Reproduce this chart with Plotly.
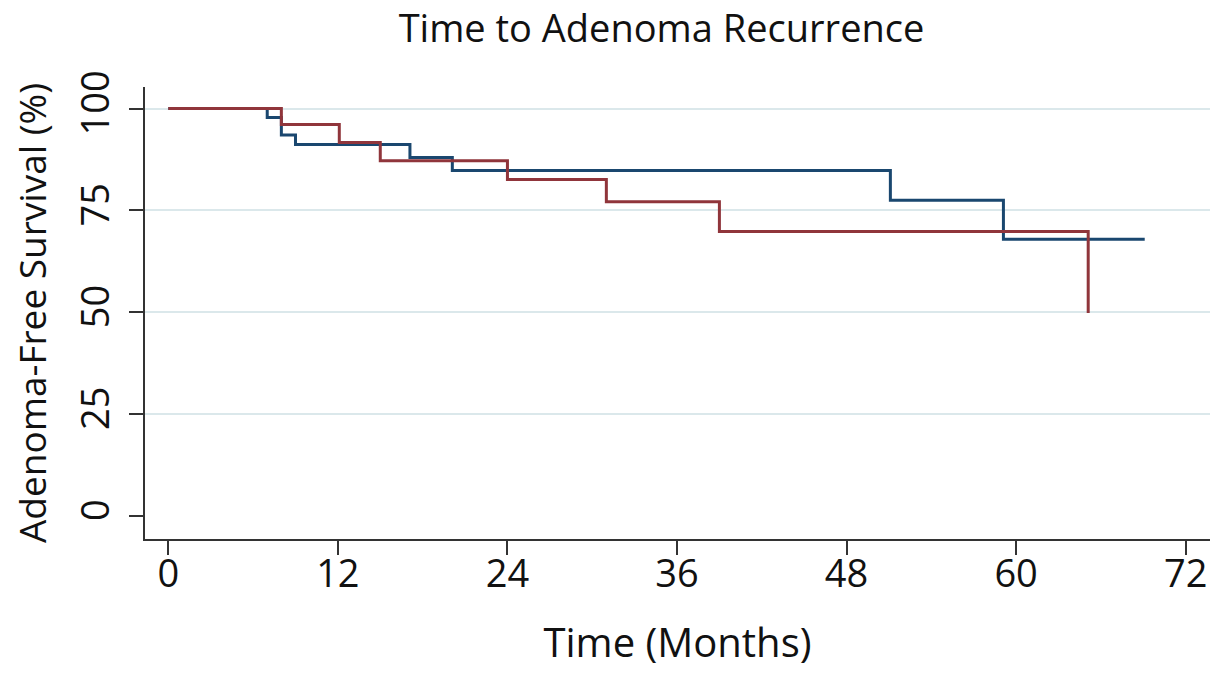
import plotly.graph_objects as go

# Kaplan-Meier step data (months, % adenoma-free)
blue_time = [0, 7.0, 8.0, 9.0, 17.1, 20.1, 51.1, 59.1, 69.1]
blue_surv = [100, 97.8, 93.5, 91.2, 88.0, 84.8, 77.5, 67.9, 67.9]

red_time = [0, 8.0, 12.1, 15.0, 24.0, 31.0, 39.0, 65.1]
red_surv = [100, 96.1, 91.7, 87.2, 82.6, 77.1, 69.8, 49.8]

x_ticks = [0, 12, 24, 36, 48, 60, 72]
y_ticks = [0, 25, 50, 75, 100]
y_grid = [25, 50, 75, 100]

NAVY = "#1a476f"
MAROON = "#90353b"
FONT = "Open Sans"
AXC = "#333333"
TXT = "#111111"

x_range = [-1.65, 73.72]
y_range = [-5.7, 105.3]

fig = go.Figure()
fig.add_trace(go.Scatter(x=blue_time, y=blue_surv, mode="lines",
                         line=dict(color=NAVY, width=3, shape="hv"),
                         showlegend=False, yaxis="y"))
fig.add_trace(go.Scatter(x=red_time, y=red_surv, mode="lines",
                         line=dict(color=MAROON, width=3, shape="hv"),
                         showlegend=False, yaxis="y2"))

fig.update_layout(
    width=1225, height=673,
    margin=dict(l=145, r=15, t=87, b=134),
    paper_bgcolor="white", plot_bgcolor="white",
    font=dict(family=FONT, color=TXT),
    title=dict(text="Time to Adenoma Recurrence", x=0.54, xanchor="center",
               y=1 - 29 / 673, yanchor="middle", yref="container",
               font=dict(size=38, family=FONT, color=TXT)),
    xaxis=dict(range=x_range, tickvals=x_ticks, ticktext=[str(v) for v in x_ticks],
               showgrid=False, zeroline=False, showline=True, linecolor=AXC, linewidth=2,
               ticks="outside", ticklen=14, tickwidth=2, tickcolor=AXC,
               ticklabelstandoff=-14,
               tickfont=dict(size=38, family=FONT, color=TXT),
               title=dict(text="Time (Months)", standoff=32,
                          font=dict(size=40, family=FONT, color=TXT))),
    yaxis=dict(range=y_range, tickvals=y_ticks, ticktext=[str(v) for v in y_ticks],
               showgrid=False, zeroline=False, showline=True, linecolor=AXC, linewidth=2,
               ticks="outside", ticklen=14, tickwidth=2, tickcolor=AXC, tickangle=-90,
               ticklabelstandoff=5,
               tickfont=dict(size=38, family=FONT, color=TXT),
               title=dict(text="Adenoma-Free Survival (%)", standoff=10,
                          font=dict(size=37, family=FONT, color=TXT))),
    yaxis2=dict(range=y_range, overlaying="y", side="left", tickvals=y_grid,
                showticklabels=False, ticks="", showline=False, zeroline=False,
                showgrid=True, gridcolor="#dbe8eb", gridwidth=2),
)

fig.write_html("out.html", config={"displayModeBar": False},
               post_script="document.body.style.margin='0px';")
